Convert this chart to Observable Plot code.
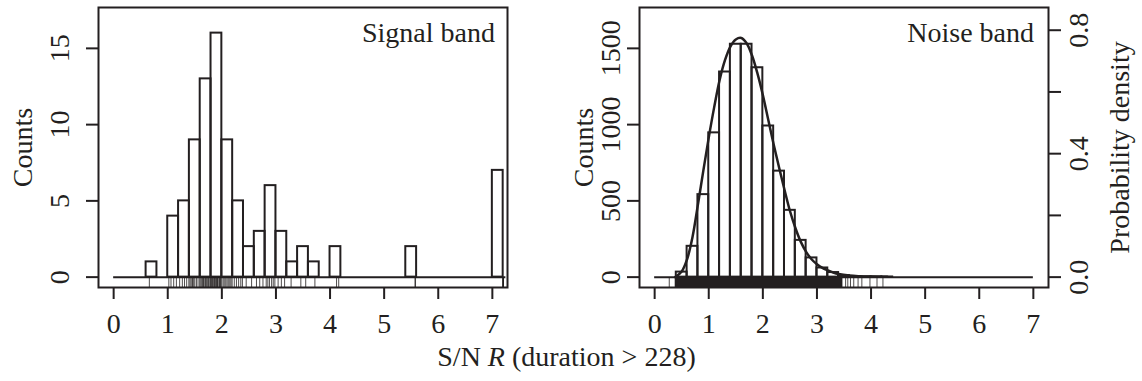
<!DOCTYPE html>
<html>
<head>
<meta charset="utf-8">
<script src="https://cdn.jsdelivr.net/npm/d3@7"></script>
<script src="https://cdn.jsdelivr.net/npm/@observablehq/plot@0.6"></script>
<style>
  html, body { margin: 0; padding: 0; background: #fff; }
  #wrap { position: relative; width: 1142px; height: 381px; overflow: hidden; font-family: 'Liberation Serif', 'Times New Roman', serif; color: #231f20; }
  #wrap svg { position: absolute; top: 0; }
  #xlab { position: absolute; left: 0; width: 1133px; top: 343px; text-align: center; font-size: 28px; line-height: 28px; white-space: nowrap; }
</style>
</head>
<body>
<div id="wrap"><div id="xlab">S/N <i>R</i> (duration &gt; 228)</div></div>
<script>
// ---------- data ----------
const xTicks = [0, 1, 2, 3, 4, 5, 6, 7];
const signalCountTicks = [0, 5, 10, 15];
const noiseCountTicks = [0, 500, 1000, 1500];
const densityTicks = [0, 0.2, 0.4, 0.6, 0.8];
const densityTickLabels = ["0.0", "", "0.4", "", "0.8"];

const panelTitles = ["Signal band", "Noise band"];
const countLabel = "Counts";
const densityLabel = "Probability density";

const xLim = [0, 7];
const signalYLim = [0, 17];
const noiseYLim = [0, 1700];
const densityYLim = [0, 0.84];

const binWidth = 0.2;

// Signal band histogram (non-empty bins, left edges) and counts
const signalBinStarts = [0.6, 1.0, 1.2, 1.4, 1.6, 1.8, 2.0, 2.2, 2.4, 2.6, 2.8, 3.0, 3.2, 3.4, 3.6, 4.0, 5.4, 7.0];
const signalCounts    = [1,   4,   5,   9,   13,  16,  9,   5,   2,   3,   6,   3,   1,   2,   1,   2,   2,   7];
const signalBreakRange = [0, 7.25];
const signalRug = [
  0.66,
  1.02, 1.06, 1.11, 1.16,
  1.22, 1.27, 1.31, 1.35, 1.39,
  1.41, 1.43, 1.45, 1.46, 1.48, 1.50, 1.53, 1.56, 1.59,
  1.61, 1.63, 1.64, 1.66, 1.67, 1.69, 1.70, 1.72, 1.73, 1.75, 1.76, 1.78, 1.79,
  1.81, 1.82, 1.83, 1.85, 1.86, 1.87, 1.88, 1.90, 1.91, 1.92, 1.93, 1.95, 1.96, 1.97, 1.98, 1.99,
  2.02, 2.04, 2.06, 2.08, 2.11, 2.13, 2.15, 2.17, 2.19,
  2.23, 2.27, 2.31, 2.35, 2.38,
  2.45, 2.55,
  2.64, 2.70, 2.76,
  2.82, 2.85, 2.88, 2.92, 2.95, 2.98,
  3.04, 3.10, 3.16,
  3.28,
  3.46, 3.55,
  3.72,
  4.12, 4.16,
  5.57, 5.58,
  7.2, 7.2, 7.2, 7.2, 7.2, 7.2, 7.2
];

// Noise band histogram
const noiseBinStarts = [0.4, 0.6, 0.8, 1.0, 1.2, 1.4, 1.6, 1.8, 2.0, 2.2, 2.4, 2.6, 2.8, 3.0, 3.2, 3.4, 3.6, 3.8, 4.0, 4.2];
const noiseCounts    = [33,  202, 541, 946, 1345, 1527, 1527, 1373, 991, 695, 438, 241, 126, 60, 30, 10, 4, 2, 2, 1];
const noiseBreakRange = [0, 7];
const noiseRugBand = [0.38, 3.48];
const noiseRugSparse = [0.27, 3.53, 3.57, 3.62, 3.68, 3.76, 3.83, 3.98, 4.11, 4.22];

// Fitted probability density (noise band)
const densityX = [0.38, 0.5, 0.6, 0.7, 0.8, 0.9, 1.0, 1.1, 1.2, 1.3, 1.4, 1.5, 1.6, 1.7, 1.8, 1.9, 2.0, 2.1, 2.2, 2.3, 2.4, 2.5, 2.6, 2.7, 2.8, 2.9, 3.0, 3.1, 3.2, 3.3, 3.4, 3.6, 3.8, 4.0, 4.3];
const densityY = [0.0, 0.018, 0.058, 0.13, 0.235, 0.345, 0.452, 0.55, 0.638, 0.703, 0.747, 0.77, 0.775, 0.758, 0.718, 0.66, 0.59, 0.51, 0.43, 0.355, 0.283, 0.215, 0.16, 0.115, 0.082, 0.058, 0.042, 0.03, 0.022, 0.015, 0.01, 0.005, 0.003, 0.002, 0.001];

// ---------- drawing ----------
const INK = "#231f20";
const FONT = "'Liberation Serif', 'Times New Roman', serif";
const ext = ([a, b]) => { const d = (b - a) * 0.04; return [a - d, b + d]; };

const W = 571, H = 381, MT = 7, MB = 94;
const plotH = H - MT - MB;
const rugInset = plotH - plotH * 0.033;

const baseStyle = {fontFamily: FONT, fontSize: "28px", color: INK, background: "transparent", overflow: "visible"};

const signalData = signalBinStarts.map((s, i) => ({x1: s, x2: s + binWidth, count: signalCounts[i]}));
const noiseData = noiseBinStarts.map((s, i) => ({x1: s, x2: s + binWidth, count: noiseCounts[i]}));

const K = noiseYLim[1] / densityYLim[1]; // counts per unit density
const densityData = densityX.map((x, i) => ({x, y: densityY[i] * K}));
const densityTickMap = new Map(densityTicks.map((d, i) => [d * K, densityTickLabels[i]]));

const left = Plot.plot({
  width: W, height: H, marginLeft: 98, marginRight: W - 507, marginTop: MT, marginBottom: MB,
  style: baseStyle,
  x: {domain: ext(xLim)},
  y: {domain: ext(signalYLim)},
  marks: [
    Plot.ruleY([{y: 0, x1: signalBreakRange[0], x2: signalBreakRange[1]}], {y: "y", x1: "x1", x2: "x2", stroke: INK, strokeWidth: 2}),
    Plot.rect(signalData, {x1: "x1", x2: "x2", y1: 0, y2: "count", fill: "none", stroke: INK, strokeWidth: 2}),
    Plot.tickX(signalRug, {x: d => d, insetTop: rugInset, stroke: INK, strokeWidth: 0.8}),
    Plot.text([panelTitles[0]], {text: d => d, frameAnchor: "top-right", dx: -12.5, dy: 34, lineAnchor: "bottom", textAnchor: "end", fill: INK}),
    Plot.axisX(xTicks, {tickSize: 12, tickPadding: 14, strokeWidth: 2, stroke: INK, fill: INK, label: null, tickFormat: d => String(d)}),
    Plot.axisY(signalCountTicks, {tickSize: 12, tickPadding: 18, tickRotate: -90, textAnchor: "middle", lineAnchor: "bottom", strokeWidth: 2, stroke: INK, fill: INK, tickFormat: d => String(d), label: countLabel, labelArrow: "none", labelAnchor: "center", labelOffset: 86}),
    Plot.frame({stroke: INK, strokeWidth: 2})
  ]
});
left.style.left = "0px";

const right = Plot.plot({
  width: W, height: H, marginLeft: 639 - W, marginRight: 2 * W - 1048, marginTop: MT, marginBottom: MB,
  style: baseStyle,
  x: {domain: ext(xLim)},
  y: {domain: ext(noiseYLim)},
  marks: [
    Plot.ruleY([{y: 0, x1: noiseBreakRange[0], x2: noiseBreakRange[1]}], {y: "y", x1: "x1", x2: "x2", stroke: INK, strokeWidth: 2}),
    Plot.rect(noiseData, {x1: "x1", x2: "x2", y1: 0, y2: "count", fill: "none", stroke: INK, strokeWidth: 2}),
    Plot.rect([{x1: noiseRugBand[0], x2: noiseRugBand[1]}], {x1: "x1", x2: "x2", insetTop: rugInset, fill: INK}),
    Plot.tickX(noiseRugSparse, {x: d => d, insetTop: rugInset, stroke: INK, strokeWidth: 0.8}),
    Plot.line(densityData, {x: "x", y: "y", curve: "catmull-rom", stroke: INK, strokeWidth: 2.5}),
    Plot.text([panelTitles[1]], {text: d => d, frameAnchor: "top-right", dx: -14.5, dy: 34, lineAnchor: "bottom", textAnchor: "end", fill: INK}),
    Plot.axisX(xTicks, {tickSize: 12, tickPadding: 14, strokeWidth: 2, stroke: INK, fill: INK, label: null, tickFormat: d => String(d)}),
    Plot.axisY(noiseCountTicks, {tickSize: 12, tickPadding: 8, tickRotate: -90, textAnchor: "middle", lineAnchor: "bottom", strokeWidth: 2, stroke: INK, fill: INK, tickFormat: d => String(d), label: countLabel, labelArrow: "none", labelAnchor: "center", labelOffset: 66}),
    Plot.axisY([...densityTickMap.keys()], {anchor: "right", tickSize: 12, tickPadding: 27, tickRotate: -90, textAnchor: "middle", lineAnchor: "bottom", strokeWidth: 2, stroke: INK, fill: INK, tickFormat: d => densityTickMap.get(d), label: densityLabel, labelArrow: "none", labelAnchor: "center", labelOffset: 80}),
    Plot.frame({stroke: INK, strokeWidth: 2})
  ]
});
right.style.left = W + "px";

const wrap = document.getElementById("wrap");
wrap.appendChild(left);
wrap.appendChild(right);
</script>
</body>
</html>
